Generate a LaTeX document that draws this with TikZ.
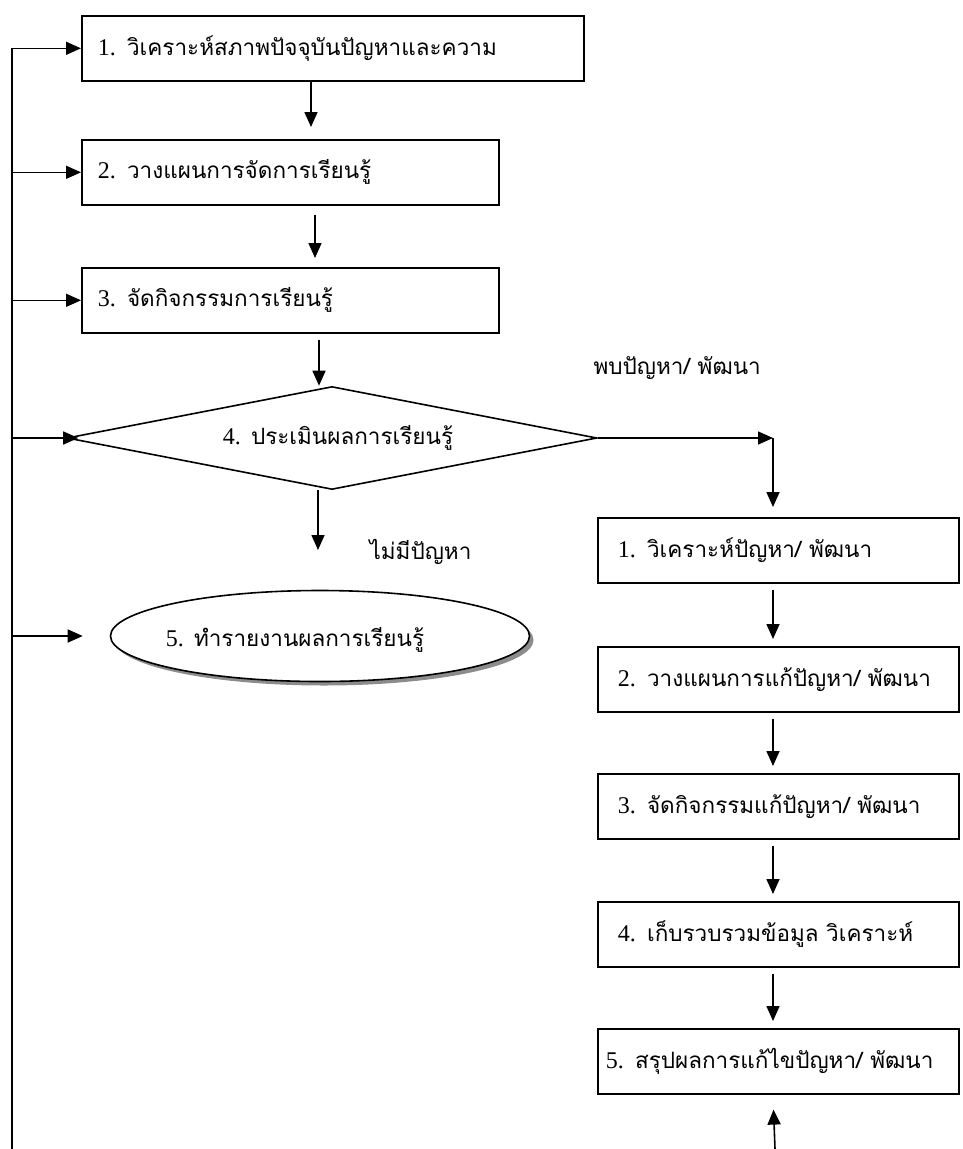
\documentclass[tikz,border=0pt]{standalone}
\usepackage{fontspec}
\newfontfamily\thaifont[Script=Thai]{Loma}
\newfontfamily\latinfont{Liberation Serif}
\newcommand{\stepno}[1]{{\latinfont\fontsize{24}{28}\selectfont #1.}}
\usetikzlibrary{arrows.meta, shapes.geometric, shadows}

\tikzset{
  procbox/.style={draw, line width=1.6pt, rectangle, anchor=north west,
    minimum height=65pt, inner xsep=16pt, align=left},
  decision/.style={draw, line width=1.6pt, diamond, aspect=5, inner sep=0pt,
    minimum width=530pt, minimum height=103pt},
  reportoval/.style={draw, line width=1.6pt, ellipse, fill=white,
    minimum width=419pt, minimum height=91pt,
    drop shadow={shadow xshift=4pt, shadow yshift=-4pt, fill=black!45, opacity=1}},
  flowarrow/.style={line width=1.6pt, -{Triangle[length=15pt, width=13pt]}},
}

\begin{document}
\begin{tikzpicture}[x=1pt, y=-1pt, font=\thaifont\fontsize{22.5}{27}\selectfont]
    \useasboundingbox (0,0) rectangle (963,1149);

    % Main steps (left column)
    \node[procbox, text width=470pt] (b1) at (81,15) {\stepno{1} วิเคราะห์สภาพปัจจุบันปัญหาและความ};
    \node[procbox, text width=385pt] (b2) at (81,139) {\stepno{2} วางแผนการจัดการเรียนรู้};
    \node[procbox, text width=385pt] (b3) at (81,267) {\stepno{3} จัดกิจกรรมการเรียนรู้};
    \node[decision] (d4) at (332,438) {\hspace*{12pt}\stepno{4} ประเมินผลการเรียนรู้};
    \node[reportoval, label={[xshift=-25pt, yshift=-4pt]center:{\stepno{5} ทำรายงานผลการเรียนรู้}}] (e5) at (320,636) {};

    % Problem solving steps (right column)
    \node[procbox, inner xsep=20pt, text width=321pt] (r1) at (597,517) {\stepno{1} วิเคราะห์ปัญหา/ พัฒนา};
    \node[procbox, inner xsep=20pt, text width=321pt] (r2) at (597,646) {\stepno{2} วางแผนการแก้ปัญหา/ พัฒนา};
    \node[procbox, inner xsep=20pt, text width=321pt] (r3) at (597,773) {\stepno{3} จัดกิจกรรมแก้ปัญหา/ พัฒนา};
    \node[procbox, inner xsep=20pt, text width=321pt] (r4) at (597,901) {\stepno{4} เก็บรวบรวมข้อมูล วิเคราะห์};
    \node[procbox, inner xsep=8pt, text width=345pt] (r5) at (597,1028) {\stepno{5} สรุปผลการแก้ไขปัญหา/ พัฒนา};

    % Branch labels
    \node[anchor=west] (found) at (590,368) {พบปัญหา/ พัฒนา};
    \node[anchor=west] (nofound) at (366,552) {ไม่มีปัญหา};

    % Helper points
    \coordinate (rail) at (12,1149);
    \coordinate (col12) at (311,0);
    \coordinate (col23) at (315,0);
    \coordinate (col34) at (319,0);
    \coordinate (done) at (318,550);
    \coordinate (turn) at (773,438);
    \coordinate (rbot) at (775,1149);

    % Feedback line on the left
    \draw[flowarrow] (rail) |- (b1.west);
    \draw[flowarrow] (rail |- b2.west) -- (b2.west);
    \draw[flowarrow] (rail |- b3.west) -- (b3.west);
    \draw[flowarrow] (rail |- d4.west) -- ([xshift=12pt]d4.west);
    \draw[flowarrow] (rail |- e5.west) -- ([xshift=-27pt]e5.west);

    % Down the left column
    \draw[flowarrow, shorten >=12pt] (b1.south -| col12) -- (b2.north -| col12);
    \draw[flowarrow, shorten <=9pt, shorten >=9pt] (b2.south -| col23) -- (b3.north -| col23);
    \draw[flowarrow, shorten <=6pt] (b3.south -| col34) -- (d4.north -| col34);
    \draw[flowarrow] (d4.south -| done) -- (done);

    % Over to the right column
    \draw[flowarrow] (d4.east) -- (turn);
    \draw[flowarrow, shorten >=10pt] (turn) -- (r1.north -| turn);
    \foreach \a/\b in {r1/r2, r2/r3, r3/r4, r4/r5}
        \draw[flowarrow, shorten <=6pt, shorten >=7pt] (\a.south -| turn) -- (\b.north -| turn);
    \draw[flowarrow, shorten >=15pt] (rbot) -- (r5.south -| turn);
\end{tikzpicture}
\end{document}
